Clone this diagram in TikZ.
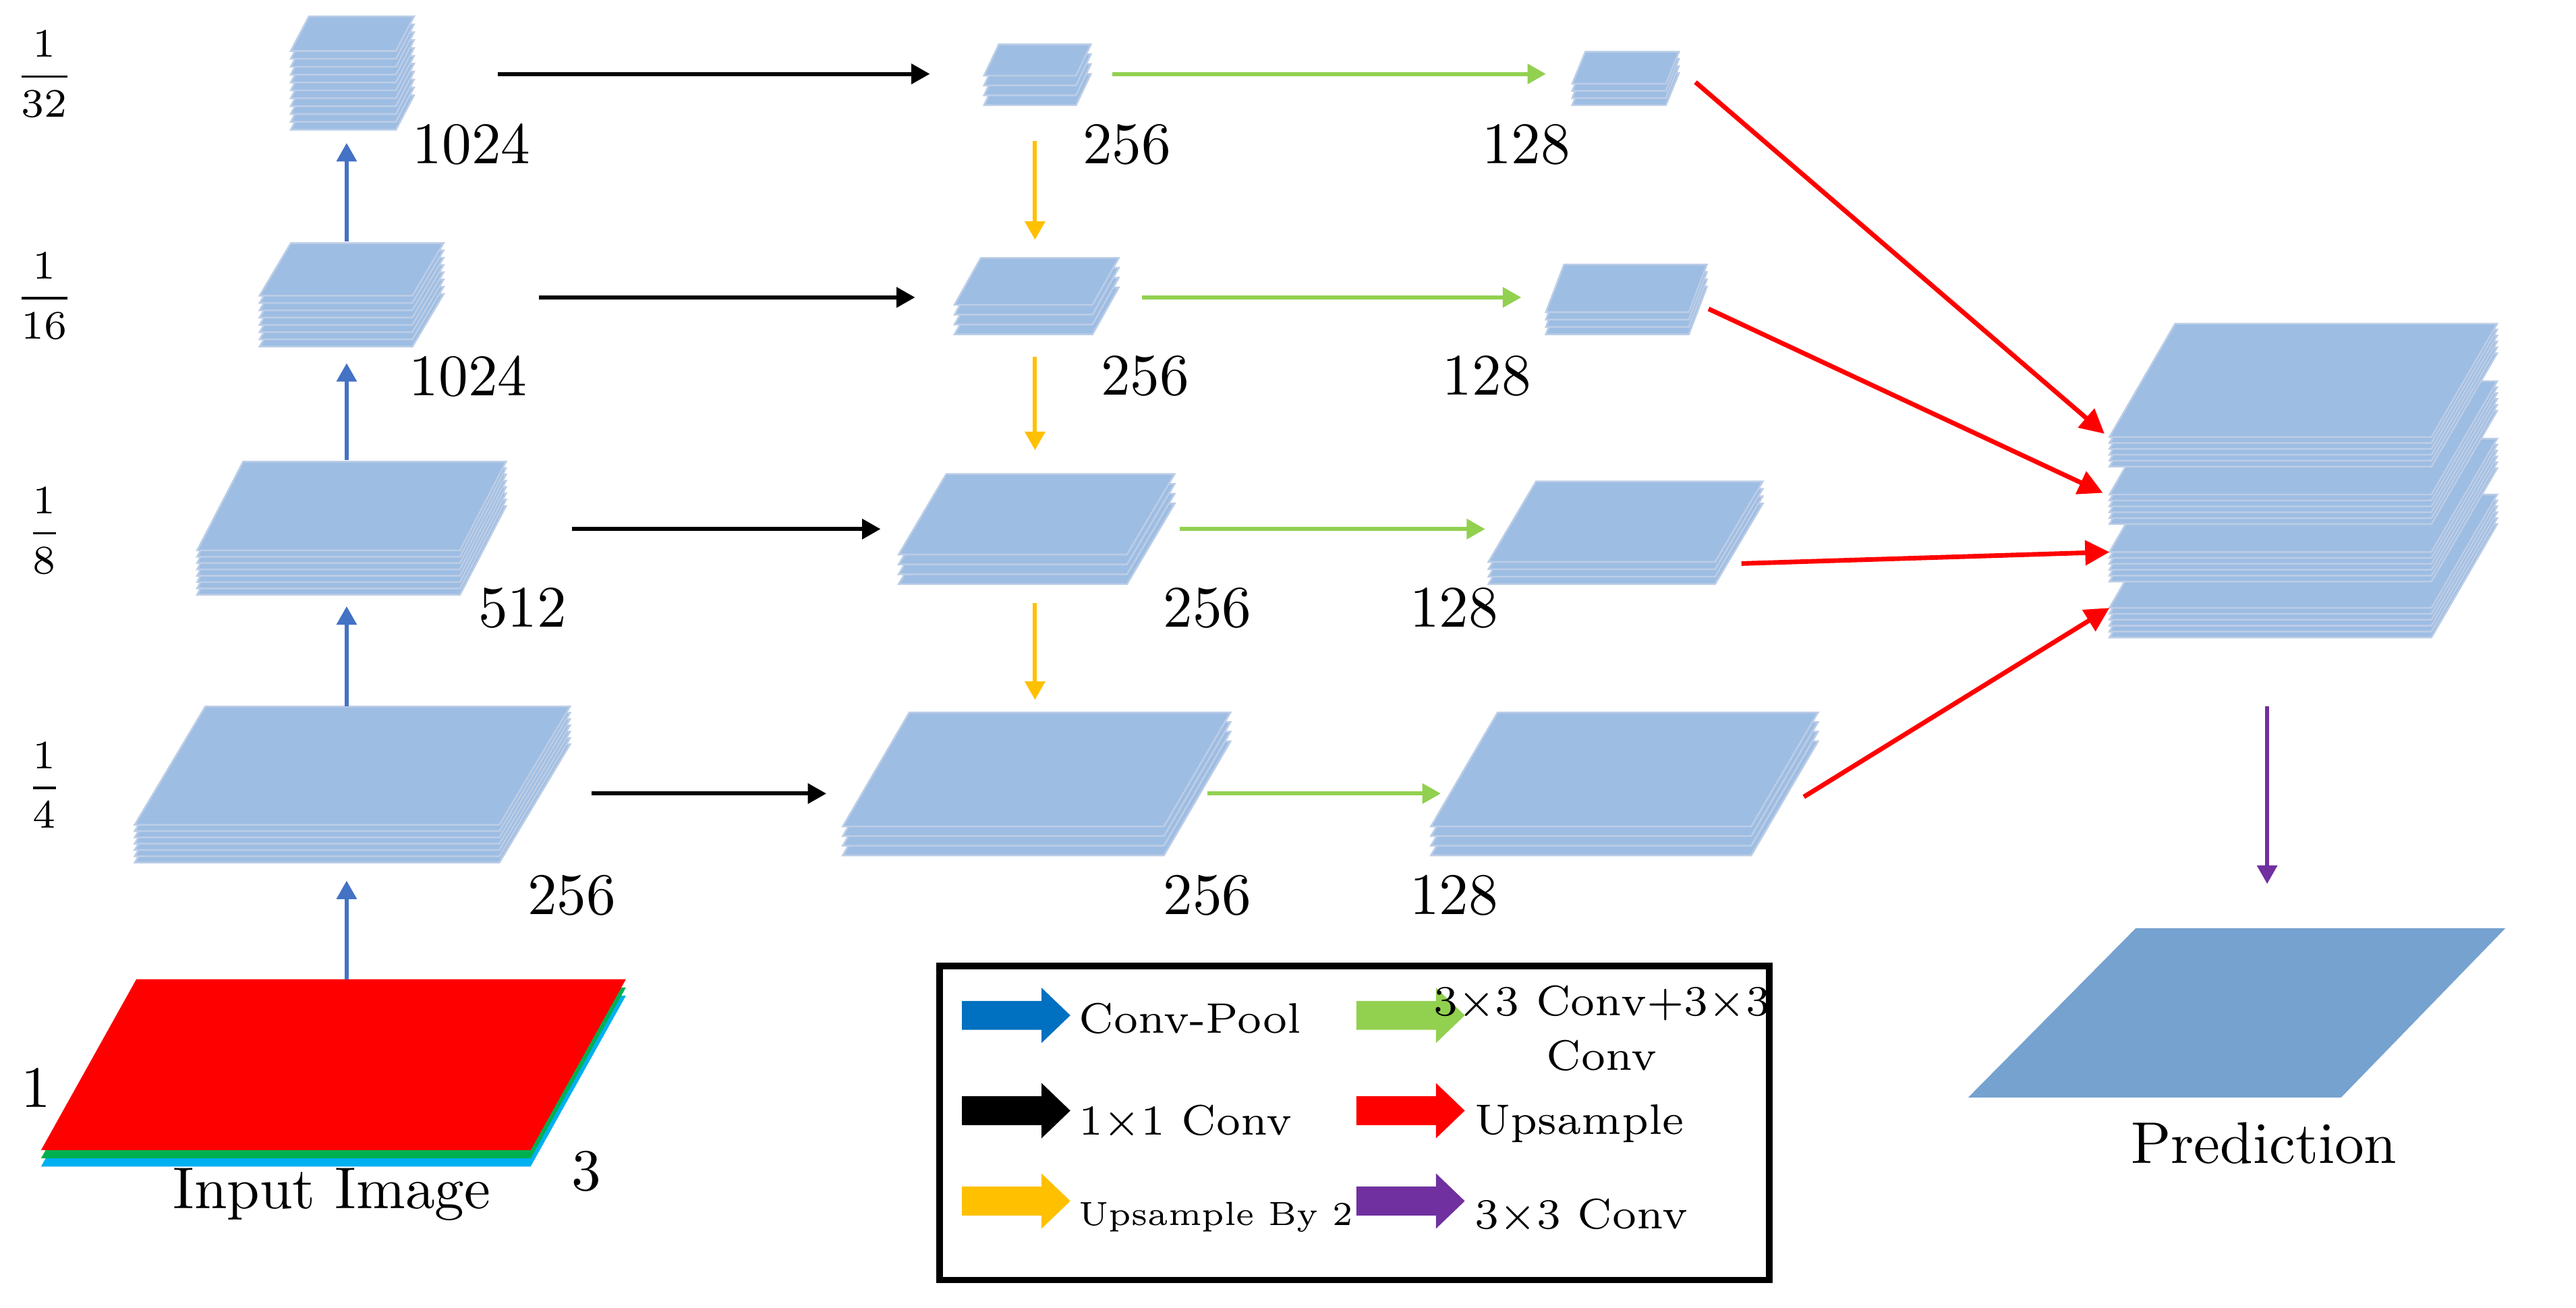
\documentclass[tikz,border=0pt]{standalone}
\usetikzlibrary{arrows.meta}
\definecolor{stk}{HTML}{9DBDE3}
\definecolor{stkl}{HTML}{BCCDE6}
\definecolor{pred}{HTML}{76A2CF}
\definecolor{cpool}{HTML}{4472C4}
\definecolor{lblue}{HTML}{0070C0}
\definecolor{cgreen}{HTML}{92D050}
\definecolor{cyel}{HTML}{FFC000}
\definecolor{cpur}{HTML}{7030A0}
\definecolor{cgr2}{HTML}{00B050}
\definecolor{ccy}{HTML}{00B0F0}
% \Stk{tlx}{top}{w}{facebottom}{blx}{bottom}{n}
\newcommand{\Stk}[7]{%
  \foreach \k in {#7,...,0}{%
    \pgfmathsetmacro{\d}{\k*(#6-#4)/#7}%
    \filldraw[fill=stk,draw=stkl,line width=0.3pt]
      (#5,#4+\d) -- (#5+#3,#4+\d) -- (#1+#3,#2+\d) -- (#1,#2+\d) -- cycle;}}
\newcommand{\BArrow}[3]{% x, y(center), colour
  \fill[#3] (#1,#2-8.8) -- (#1+48.5,#2-8.8) -- (#1+48.5,#2-16.8) -- (#1+66,#2) -- (#1+48.5,#2+16.8) -- (#1+48.5,#2+8.8) -- (#1,#2+8.8) -- cycle;}
\tikzset{
  num/.style={font=\fontsize{10.2}{12}\selectfont, inner sep=0pt},
  frac/.style={font=\fontsize{7}{8}\selectfont, inner sep=0pt},
  leg/.style={font=\fontsize{7.4}{8.5}\selectfont, inner sep=0pt, anchor=west},
  ab/.style={-{Triangle[length=3.2pt,width=3.4pt]}, line width=0.7pt},
  ar/.style={-{Triangle[length=4.2pt,width=4.2pt]}, line width=0.8pt, red},
}
\begin{document}
\begin{tikzpicture}[x=0.1mm,y=-0.1mm]
\useasboundingbox (0,0) rectangle (1568,796);
% ---------- encoder ----------
\Stk{188}{10}{64}{31}{177}{79}{10}
\Stk{177}{148}{93}{180}{158}{211}{7}
\Stk{148}{281}{160}{335}{120}{362}{7}
\Stk{125}{430}{222}{502}{82}{525}{6}
% input image
\fill[ccy] (25,710) -- (323,710) -- (381,606) -- (83,606) -- cycle;
\fill[cgr2] (25,705) -- (323,705) -- (381,601) -- (83,601) -- cycle;
\fill[red] (25,700) -- (323,700) -- (381,596) -- (83,596) -- cycle;
% ---------- middle ----------
\Stk{608}{27}{56}{46}{599}{64}{3}
\Stk{597}{157}{84}{185.5}{581}{203.5}{3}
\Stk{576}{288.5}{139}{337.5}{547}{355.5}{3}
\Stk{553.5}{433.6}{195.5}{503}{513}{520.6}{3}
% ---------- right ----------
\Stk{965}{31.5}{57}{51}{957}{64}{3}
\Stk{952}{161}{87}{190}{941}{203.5}{3}
\Stk{935}{293}{138}{342}{906}{355.5}{3}
\Stk{911.6}{433.6}{195}{503}{871}{520.6}{3}
% ---------- prediction stacks ----------
\Stk{1324}{301}{196}{370}{1284}{388}{5}
\Stk{1324}{267}{196}{336}{1284}{354}{5}
\Stk{1324}{232}{196}{301}{1284}{319}{5}
\Stk{1324}{197}{196}{266}{1284}{284}{5}
\fill[pred] (1198,668) -- (1425,668) -- (1525,565) -- (1300,565) -- cycle;
% ---------- labels ----------
\node[frac] (f32) at (27,45) {$\displaystyle\frac{1}{32}$};
\node[frac] (f16) at (27,180) {$\displaystyle\frac{1}{16}$};
\node[frac] (f8) at (27,323) {$\displaystyle\frac{1}{8}$};
\node[frac] (f4) at (27,478) {$\displaystyle\frac{1}{4}$};
\node[num] (n1) at (287,88) {1024};
\node[num] (n2) at (285,229) {1024};
\node[num] (n3) at (318,370) {512};
\node[num] (n4) at (348,545) {256};
\node[num] (m1) at (686,88) {256};
\node[num] (m2) at (697,229) {256};
\node[num] (m3) at (735,370) {256};
\node[num] (m4) at (735,545) {256};
\node[num] (r1) at (929,88) {128};
\node[num] (r2) at (905,229) {128};
\node[num] (r3) at (885,370) {128};
\node[num] (r4) at (885,545) {128};
\node[num] (one) at (22,662) {1};
\node[num] (three) at (357,713) {3};
\node[num] (inp) at (202,727) {Input Image};
\node[num] (predl) at (1378,696) {Prediction};
% ---------- connector coordinates ----------
\coordinate (b1s) at (211,147); \coordinate (b1e) at (211,87);
\coordinate (b2s) at (211,280); \coordinate (b2e) at (211,221);
\coordinate (b3s) at (211,430); \coordinate (b3e) at (211,369);
\coordinate (b4s) at (211,596); \coordinate (b4e) at (211,536);
\coordinate (k1s) at (303,45); \coordinate (k1e) at (566,45);
\coordinate (k2s) at (328,181); \coordinate (k2e) at (557,181);
\coordinate (k3s) at (348,322); \coordinate (k3e) at (536,322);
\coordinate (k4s) at (360,483); \coordinate (k4e) at (503,483);
\coordinate (y1s) at (630,86); \coordinate (y1e) at (630,146);
\coordinate (y2s) at (630,217); \coordinate (y2e) at (630,274);
\coordinate (y3s) at (630,367); \coordinate (y3e) at (630,426);
\coordinate (g1s) at (677,45); \coordinate (g1e) at (941,45);
\coordinate (g2s) at (695,181); \coordinate (g2e) at (926,181);
\coordinate (g3s) at (718,322); \coordinate (g3e) at (904,322);
\coordinate (g4s) at (735,483); \coordinate (g4e) at (877,483);
\coordinate (q1s) at (1032,50); \coordinate (q1e) at (1281,264);
\coordinate (q2s) at (1040,188); \coordinate (q2e) at (1280,300);
\coordinate (q3s) at (1060,343); \coordinate (q3e) at (1284,336);
\coordinate (q4s) at (1098,485); \coordinate (q4e) at (1284,370);
\coordinate (ps) at (1380,430); \coordinate (pe) at (1380,538);
% ---------- connectors ----------
\foreach \a in {1,2,3,4}{\draw[ab,cpool] (b\a s) -- (b\a e);}
\foreach \a in {1,2,3,4}{\draw[ab,black] (k\a s) -- (k\a e);}
\foreach \a in {1,2,3}{\draw[ab,cyel] (y\a s) -- (y\a e);}
\foreach \a in {1,2,3,4}{\draw[ab,cgreen] (g\a s) -- (g\a e);}
\foreach \a in {1,2,3,4}{\draw[ar] (q\a s) -- (q\a e);}
\draw[ab,cpur] (ps) -- (pe);
% ---------- legend ----------
\draw[line width=1.1pt] (572,588) rectangle (1077,779);
\BArrow{585.5}{618}{lblue}
\BArrow{585.5}{676}{black}
\BArrow{585.5}{731}{cyel}
\BArrow{825.6}{618}{cgreen}
\BArrow{825.6}{676}{red}
\BArrow{825.6}{731}{cpur}
\node[leg] (l1) at (656,620) {Conv-Pool};
\node[leg] (l2) at (656,682) {1\texttimes1 Conv};
\node[leg,font=\fontsize{5.8}{7}\selectfont] (l3) at (656,741) {Upsample By 2};
\node[font=\fontsize{7.4}{9.5}\selectfont, inner sep=0pt, align=center] (l4) at (975,626) {3\texttimes3 Conv+3\texttimes3\\Conv};
\node[leg] (l5) at (897,684) {Upsample};
\node[leg] (l6) at (897,739) {3\texttimes3 Conv};
\end{tikzpicture}
\end{document}
